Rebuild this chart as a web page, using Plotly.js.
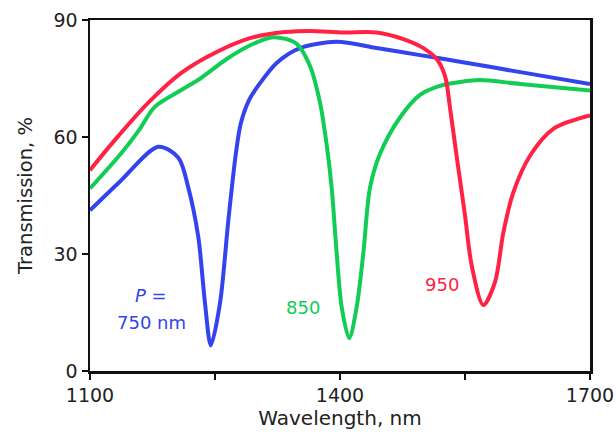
<!DOCTYPE html>
<html><head><meta charset="utf-8">
<script src="https://cdn.plot.ly/plotly-3.0.1.min.js"></script>
<style>body{margin:0;background:#fff}#c{width:616px;height:443px}</style>
</head><body><div id="c"></div>
<script>
const blueX = [1100,1137,1182,1206,1218,1230,1238,1245,1256,1266,1275,1281,1291,1304,1324,1352,1396,1444,1496,1544,1620,1700];
const blueY = [41.2,48.8,57.5,54.7,47,34.3,17.4,6.6,17.4,38.6,55.7,63.5,69.5,73.8,79,82.8,84.4,82.8,81,79.3,76.5,73.6];
const greenX = [1100,1137,1158,1178,1210,1231,1264,1293,1320,1348,1364,1376,1384,1390,1396,1402,1411,1420,1428,1436,1448,1472,1496,1520,1544,1568,1616,1700];
const greenY = [46.8,55.7,61.5,67.8,72.1,74.8,80,83.6,85.6,83.9,78.2,68.8,58,47,30.2,16.4,8.4,16.4,30.2,47,55.7,65,70.8,73.1,74.1,74.6,73.6,71.9];
const redX = [1100,1129,1170,1210,1252,1293,1334,1364,1404,1444,1476,1500,1516,1526,1532,1540,1550,1558,1572,1586,1596,1608,1628,1656,1700];
const redY = [51.5,59,68.8,76.5,81.8,85.4,86.9,87.2,86.8,86.8,85.1,82.8,80,75.7,67.5,55,39.9,27.1,16.9,22.8,35.5,45.8,55.2,62.1,65.5];
const xTicks = [1100,1250,1400,1550,1700];
const xTickText = ['1100','','1400','','1700'];
const yTicks = [0,30,60,90];

const colors = {b:'#3344ee', g:'#11cc55', r:'#ff2244'};
function tr(x,y,c){return {x:x,y:y,mode:'lines',line:{color:c,width:4,shape:'spline',smoothing:0.85},hoverinfo:'skip',showlegend:false};}
const data = [tr(blueX,blueY,colors.b), tr(greenX,greenY,colors.g), tr(redX,redY,colors.r)];
const font = {family:'DejaVu Sans, Verdana, sans-serif', color:'#222'};
const layout = {
  width:616, height:443,
  margin:{l:90,r:26,t:20,b:72},
  paper_bgcolor:'#fff', plot_bgcolor:'#fff',
  font:font,
  xaxis:{range:[1100,1700], tickvals:xTicks, ticktext:xTickText, ticks:'outside', ticklen:6, tickwidth:2.5, tickcolor:'#111',
    showline:true, linewidth:2.5, linecolor:'#111', mirror:true, showgrid:false, zeroline:false,
    tickfont:{size:19,color:'#222'}, title:{text:'Wavelength, nm', font:{size:20,color:'#222'}, standoff:6}},
  yaxis:{range:[0,90], tickvals:yTicks, ticks:'outside', ticklen:6, tickwidth:2.5, tickcolor:'#111',
    showline:true, linewidth:2.5, linecolor:'#111', mirror:true, showgrid:false, zeroline:false,
    tickfont:{size:19,color:'#222'}, title:{text:'Transmission, %', font:{size:19.5,color:'#222'}, standoff:16}},
  annotations:[
    {x:1173,y:19.4,xref:'x',yref:'y',text:'<i>P</i> =',showarrow:false,font:{size:18,color:colors.b}},
    {x:1174,y:12.5,xref:'x',yref:'y',text:'750 nm',showarrow:false,font:{size:18,color:colors.b}},
    {x:1355,y:16.4,xref:'x',yref:'y',text:'850',showarrow:false,font:{size:18,color:colors.g}},
    {x:1522,y:22.2,xref:'x',yref:'y',text:'950',showarrow:false,font:{size:18,color:colors.r}}
  ]
};
Plotly.newPlot('c', data, layout, {displayModeBar:false, staticPlot:true});
</script></body></html>
